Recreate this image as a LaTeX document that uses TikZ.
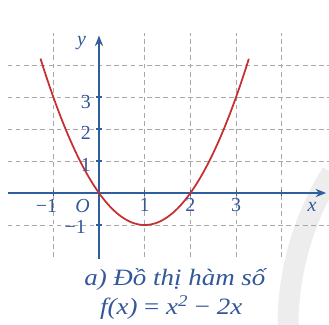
\documentclass[tikz,border=0pt]{standalone}
\usepackage{fontspec}
\setmainfont{Liberation Serif}
\usetikzlibrary{arrows.meta}
\definecolor{axblue}{HTML}{2F5E9E}
\definecolor{txtblue}{HTML}{34579A}
\definecolor{curvered}{HTML}{C62F30}
\definecolor{gridgray}{HTML}{A8A8A8}
\tikzset{
  gridline/.style={gridgray, line width=0.6pt, dash pattern=on 4pt off 3pt},
  axisline/.style={axblue, line width=1.1pt, -{Stealth[length=9pt,width=7pt]}},
  tickmark/.style={axblue, line width=1pt},
  lbl/.style={text=txtblue, font=\fontsize{17}{19}\selectfont, inner sep=0pt},
  captxt/.style={text=txtblue, font=\fontsize{20}{22}\selectfont\itshape, inner sep=0pt, xscale=1.15},
}
\begin{document}
\begin{tikzpicture}[x=1.371cm, y=0.96cm]
\useasboundingbox (-2.97cm,-3.93cm) rectangle (6.90cm,5.79cm);
% watermark arc
\draw[gray!14, line width=0.63cm] (14.34cm,-3.99cm) ++(148:8.67cm) arc[start angle=148, end angle=183, radius=8.67cm];
% grid
\foreach \gx in {-1,1,2,3,4} \draw[gridline] (\gx,-2) -- (\gx,5);
\foreach \gy in {-1,1,2,3,4} \draw[gridline] (-2,\gy) -- (5.03,\gy);
% axes
\coordinate (xs) at (-2,0);
\coordinate (xe) at (4.97,0);
\coordinate (ys) at (0,-2.05);
\coordinate (ye) at (0,4.92);
\draw[axisline] (xs) -- (xe);
\draw[axisline] (ys) -- (ye);
\foreach \gx in {-1,1,2,3,4} \draw[tickmark] (\gx,-0.09) -- (\gx,0.09);
\foreach \gy in {-1,1,2,3} \draw[tickmark] (-0.065,\gy) -- (0.065,\gy);
% curve
\draw[curvered, line width=1.5pt, domain=-1.28:3.28, samples=80, smooth] plot (\x,{\x*\x-2*\x});
% labels
\node[lbl] (lx) at (4.66,-0.44) {\itshape x};
\node[lbl] (ly) at (-0.38,4.67) {\itshape y};
\node[lbl] (lO) at (-0.36,-0.41) {\itshape O};
\node[lbl] (lxm1) at (-1.15,-0.41) {−1};
\node[lbl] (lx1) at (1,-0.37) {1};
\node[lbl] (lx2) at (2,-0.37) {2};
\node[lbl] (lx3) at (3,-0.37) {3};
\node[lbl] (ly1) at (-0.29,0.88) {1};
\node[lbl] (ly2) at (-0.29,1.87) {2};
\node[lbl] (ly3) at (-0.29,2.84) {3};
\node[lbl] (lym1) at (-0.52,-1.06) {−1};
% caption
\node[captxt] (c1) at (1.66,-2.70) {a) Đồ thị hàm số};
\node[captxt] (c2) at (1.58,-3.58) {f(x) {\upshape =} x\textsuperscript{2} {\upshape −} 2x};
\end{tikzpicture}
\end{document}
